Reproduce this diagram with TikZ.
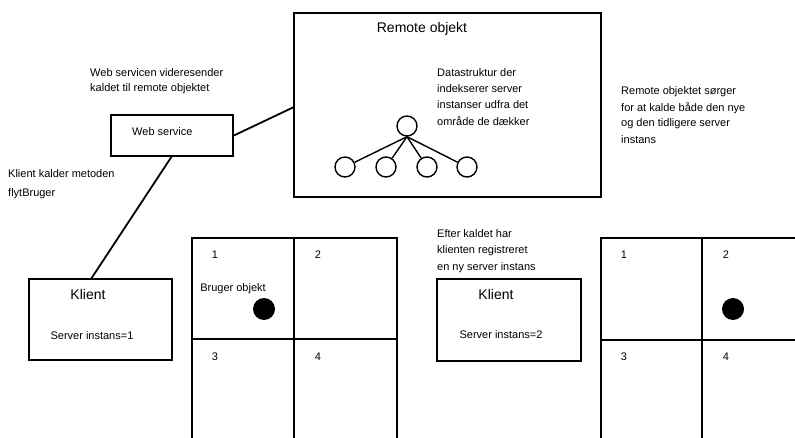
\documentclass[tikz,border=0pt]{standalone}
\usepackage{fontspec}
\setmainfont{Liberation Sans}
\begin{document}
\begin{tikzpicture}[x=1pt,y=-1pt,
  box/.style={draw,line width=1.8pt},
  lbl/.style={anchor=west,inner sep=0pt,font=\fontsize{11}{13}\selectfont},
  big/.style={inner sep=0pt,font=\fontsize{14}{16}\selectfont},
  tn/.style={draw,circle,line width=1.4pt,minimum size=20pt,inner sep=0pt},
  dot/.style={fill=black,circle,minimum size=22pt,inner sep=0pt},
  con/.style={line width=1.8pt}]
\useasboundingbox (0,0) rectangle (795,438);
% Remote object
\draw[box] (294,13) rectangle (601,197);
\node[big] (rtitle) at (422,29) {Remote objekt};
\node[lbl] (ds1) at (437,73) {Datastruktur der};
\node[lbl] (ds2) at (437,89) {indekserer server};
\node[lbl] (ds3) at (437,105) {instanser udfra det};
\node[lbl] (ds4) at (437,121) {område de dækker};
\node[tn] (root) at (407,126) {};
\node[tn] (c1) at (345,167) {};
\node[tn] (c2) at (386,167) {};
\node[tn] (c3) at (427,167) {};
\node[tn] (c4) at (467,167) {};
\foreach \c in {c1,c2,c3,c4} \draw[line width=1.4pt] (root.south) -- (\c);
\coordinate (rleft) at (294,107);
% Web service
\node[box,minimum width=122pt,minimum height=41pt,inner sep=0pt] (ws) at (172,135.5) {};
\node[lbl] (wstext) at (132,132) {Web service};
\node[lbl] (wsn1) at (90,73) {Web servicen videresender};
\node[lbl] (wsn2) at (90,89) {kaldet til remote objektet};
\draw[con] (ws.east) -- (rleft);
% Klient 1
\node[lbl] (kn1) at (8,174) {Klient kalder metoden};
\node[lbl] (kn2) at (8,194) {flytBruger};
\node[box,minimum width=143pt,minimum height=81pt,inner sep=0pt] (k1) at (100.5,319.5) {};
\node[big] (k1t) at (88,294) {Klient};
\node[lbl,anchor=center] (k1s) at (92,336) {Server instans=1};
\coordinate (k1top) at (91,279);
\coordinate (wsbot) at (172,156);
\draw[con] (wsbot) -- (k1top);
% Grid 1
\draw[box] (192,438) -- (192,238) -- (397,238) -- (397,438);
\draw[box] (294,238) -- (294,438);
\draw[box] (192,339) -- (397,339);
\node[lbl,anchor=center] (g1a) at (215,255) {1};
\node[lbl,anchor=center] (g1b) at (318,255) {2};
\node[lbl,anchor=center] (g1c) at (215,357) {3};
\node[lbl,anchor=center] (g1d) at (318,357) {4};
\node[lbl,anchor=center] (bo) at (233,289) {Bruger objekt};
\node[dot] (d1) at (264,309) {};
% Klient 2
\node[lbl] (en1) at (437,234) {Efter kaldet har};
\node[lbl] (en2) at (437,251) {klienten registreret};
\node[lbl] (en3) at (437,268) {en ny server instans};
\node[box,minimum width=144pt,minimum height=82pt,inner sep=0pt] (k2) at (509,320) {};
\node[big] (k2t) at (496,294) {Klient};
\node[lbl,anchor=center] (k2s) at (501,335) {Server instans=2};
% Grid 2
\draw[box] (601,438) -- (601,238) -- (800,238);
\draw[box] (702,238) -- (702,438);
\draw[box] (601,340) -- (800,340);
\node[lbl,anchor=center] (g2a) at (624,255) {1};
\node[lbl,anchor=center] (g2b) at (726,255) {2};
\node[lbl,anchor=center] (g2c) at (624,357) {3};
\node[lbl,anchor=center] (g2d) at (726,357) {4};
\node[dot] (d2) at (733,309) {};
% Remote note
\node[lbl] (rn1) at (621,92) {Remote objektet sørger};
\node[lbl] (rn2) at (621,108) {for at kalde både den nye};
\node[lbl] (rn3) at (621,124) {og den tidligere server};
\node[lbl] (rn4) at (621,140) {instans};
\end{tikzpicture}
\end{document}
